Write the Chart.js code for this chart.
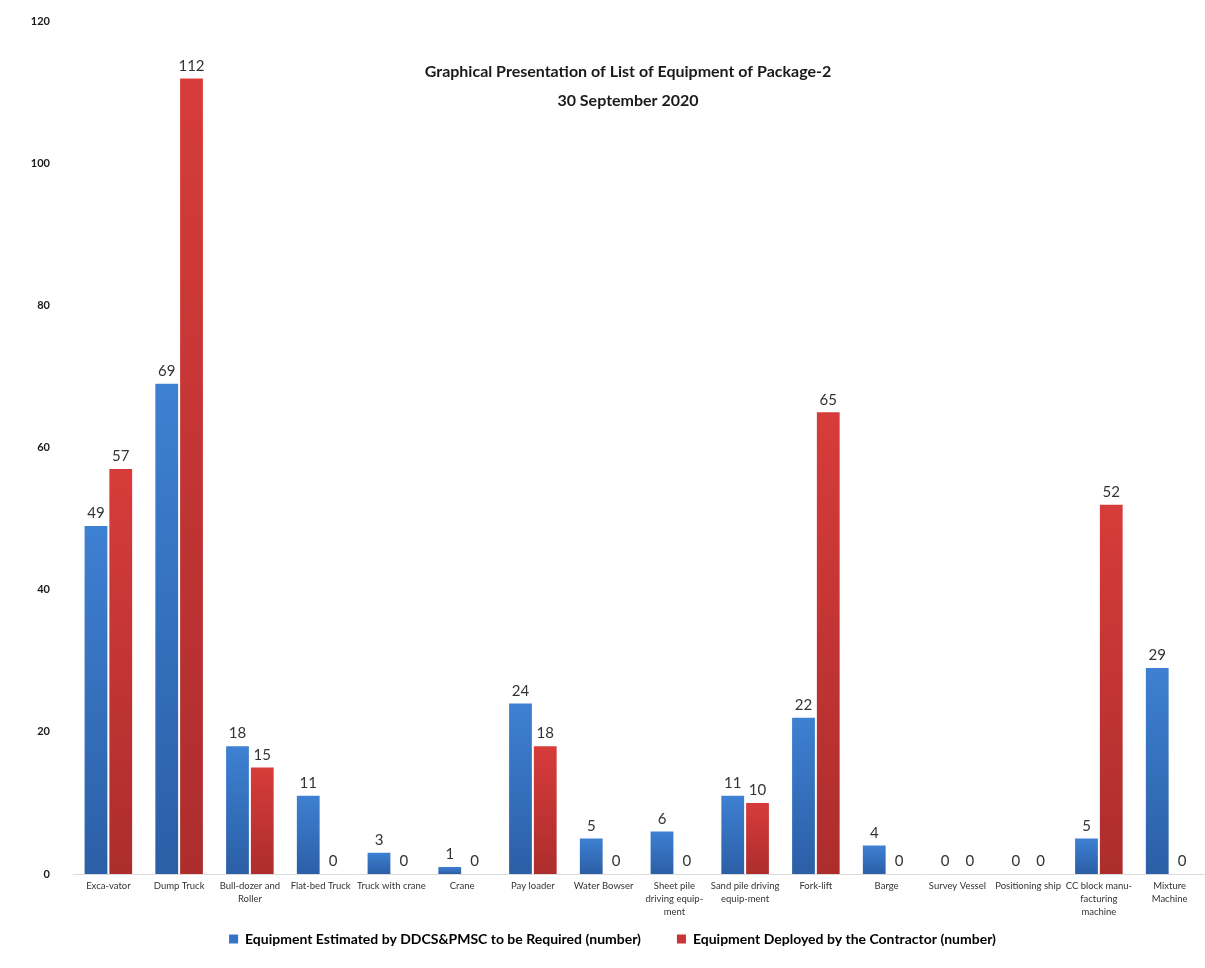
<!DOCTYPE html>
<html>
<head>
<meta charset="utf-8">
<script src="https://cdn.jsdelivr.net/npm/chart.js@4.4.0/dist/chart.umd.min.js"></script>
<style>
  html, body { margin: 0; padding: 0; background: #fff; }
  .wrap { position: relative; width: 1205px; height: 968px; }
</style>
</head>
<body>
<div class="wrap"><canvas id="equipChart"></canvas></div>
<script>
const categories = [
    "Exca-vator",
    "Dump Truck",
    ["Bull-dozer and", "Roller"],
    "Flat-bed Truck",
    "Truck with crane",
    "Crane",
    "Pay loader",
    "Water Bowser",
    ["Sheet pile", "driving equip-", "ment"],
    ["Sand pile driving", "equip-ment"],
    "Fork-lift",
    "Barge",
    "Survey Vessel",
    "Positioning ship",
    ["CC block manu-", "facturing", "machine"],
    ["Mixture", "Machine"]
];

const estimated = [49, 69, 18, 11, 3, 1, 24, 5, 6, 11, 22, 4, 0, 0, 5, 29];
const deployed = [57, 112, 15, 0, 0, 0, 18, 0, 0, 10, 65, 0, 0, 0, 52, 0];

const titleLines = ["Graphical Presentation of List of Equipment of Package-2", "30 September 2020"];

const fontFamily = "Lato, 'Open Sans', sans-serif";

// vertical gradient per bar: lighter top, darker bottom
function barGradient(light, dark) {
    return (context) => {
        const chart = context.chart;
        if (!chart.chartArea || context.raw === undefined) return light;
        const y = chart.scales.y;
        const top = y.getPixelForValue(context.raw);
        const bottom = y.getPixelForValue(0);
        if (bottom - top < 1) return light;
        const g = chart.ctx.createLinearGradient(0, top, 0, bottom);
        g.addColorStop(0, light);
        g.addColorStop(1, dark);
        return g;
    };
}

/* title inside plot + value labels */
const titlePlugin = {
    id: "insideTitle",
    afterDraw(chart) {
        const { ctx } = chart;
        ctx.save();
        ctx.font = `bold 16px ${fontFamily}`;
        ctx.fillStyle = "#1a1a1a";
        ctx.textAlign = "center";
        ctx.textBaseline = "middle";
        ctx.fillText(titleLines[0], 628, 72);
        ctx.fillText(titleLines[1], 628, 101);
        ctx.restore();
    }
};

const valueLabels = {
    id: "valueLabels",
    afterDatasetsDraw(chart) {
        const { ctx } = chart;
        ctx.save();
        ctx.font = `15px ${fontFamily}`;
        ctx.fillStyle = "#333";
        ctx.textAlign = "center";
        ctx.textBaseline = "bottom";
        chart.data.datasets.forEach((ds, i) => {
            chart.getDatasetMeta(i).data.forEach((bar, j) => {
                ctx.fillText(String(ds.data[j]), bar.x, bar.y - 5);
            });
        });
        ctx.restore();
    }
};

// legend padding also sets the gap between items, so pull the box top up a bit
// (bottom stays put so the legend's clip area still covers the text)
const legendNudge = {
    id: "legendNudge",
    afterLayout(chart) {
        if (!chart.legend) return;
        chart.legend.top -= 23;
    }
};

const ctx = document.getElementById("equipChart").getContext("2d");

new Chart(ctx, {
    type: "bar",
    data: {
        labels: categories,
        datasets: [
            {
                label: "Equipment Estimated by DDCS&PMSC to be Required (number)",
                data: estimated,
                backgroundColor: barGradient("#3e80d2", "#2b5fa6"),
                legendColor: "#3474c4"
            },
            {
                label: "Equipment Deployed by the Contractor (number)",
                data: deployed,
                backgroundColor: barGradient("#d63c3a", "#ad2d2d"),
                legendColor: "#c83434"
            }
        ]
    },
    options: {
        responsive: true,
        maintainAspectRatio: false,
        animation: false,
        layout: { padding: { top: 14, left: 20, right: 0, bottom: 0 } },
        datasets: {
            bar: { categoryPercentage: 0.7, barPercentage: 0.92 }
        },
        plugins: {
            legend: {
                position: "bottom",
                maxHeight: 49,
                labels: {
                    boxWidth: 9,
                    boxHeight: 9,
                    padding: 36,
                    color: "#1a1a1a",
                    font: { family: fontFamily, size: 14, weight: "bold" },
                    generateLabels(chart) {
                        return chart.data.datasets.map((ds, i) => ({
                            text: ds.label,
                            fillStyle: ds.legendColor,
                            strokeStyle: ds.legendColor,
                            lineWidth: 0,
                            datasetIndex: i
                        }));
                    }
                }
            },
            tooltip: { enabled: false }
        },
        scales: {
            x: {
                grid: { display: false, drawTicks: false },
                border: { color: "#dcdcdc", width: 1 },
                ticks: {
                    color: "#333",
                    autoSkip: false,
                    maxRotation: 0,
                    padding: 6,
                    font: { family: fontFamily, size: 9.5, lineHeight: 1.35 }
                },
                afterFit(scale) { scale.height = 45; }
            },
            y: {
                min: 0,
                max: 120,
                grid: { display: false },
                border: { display: false },
                ticks: {
                    stepSize: 20,
                    padding: 15,
                    color: "#1a1a1a",
                    font: { family: fontFamily, size: 11, weight: "bold" }
                },
                afterFit(scale) { scale.width = 53; }
            }
        }
    },
    plugins: [titlePlugin, valueLabels, legendNudge]
});
</script>
</body>
</html>
